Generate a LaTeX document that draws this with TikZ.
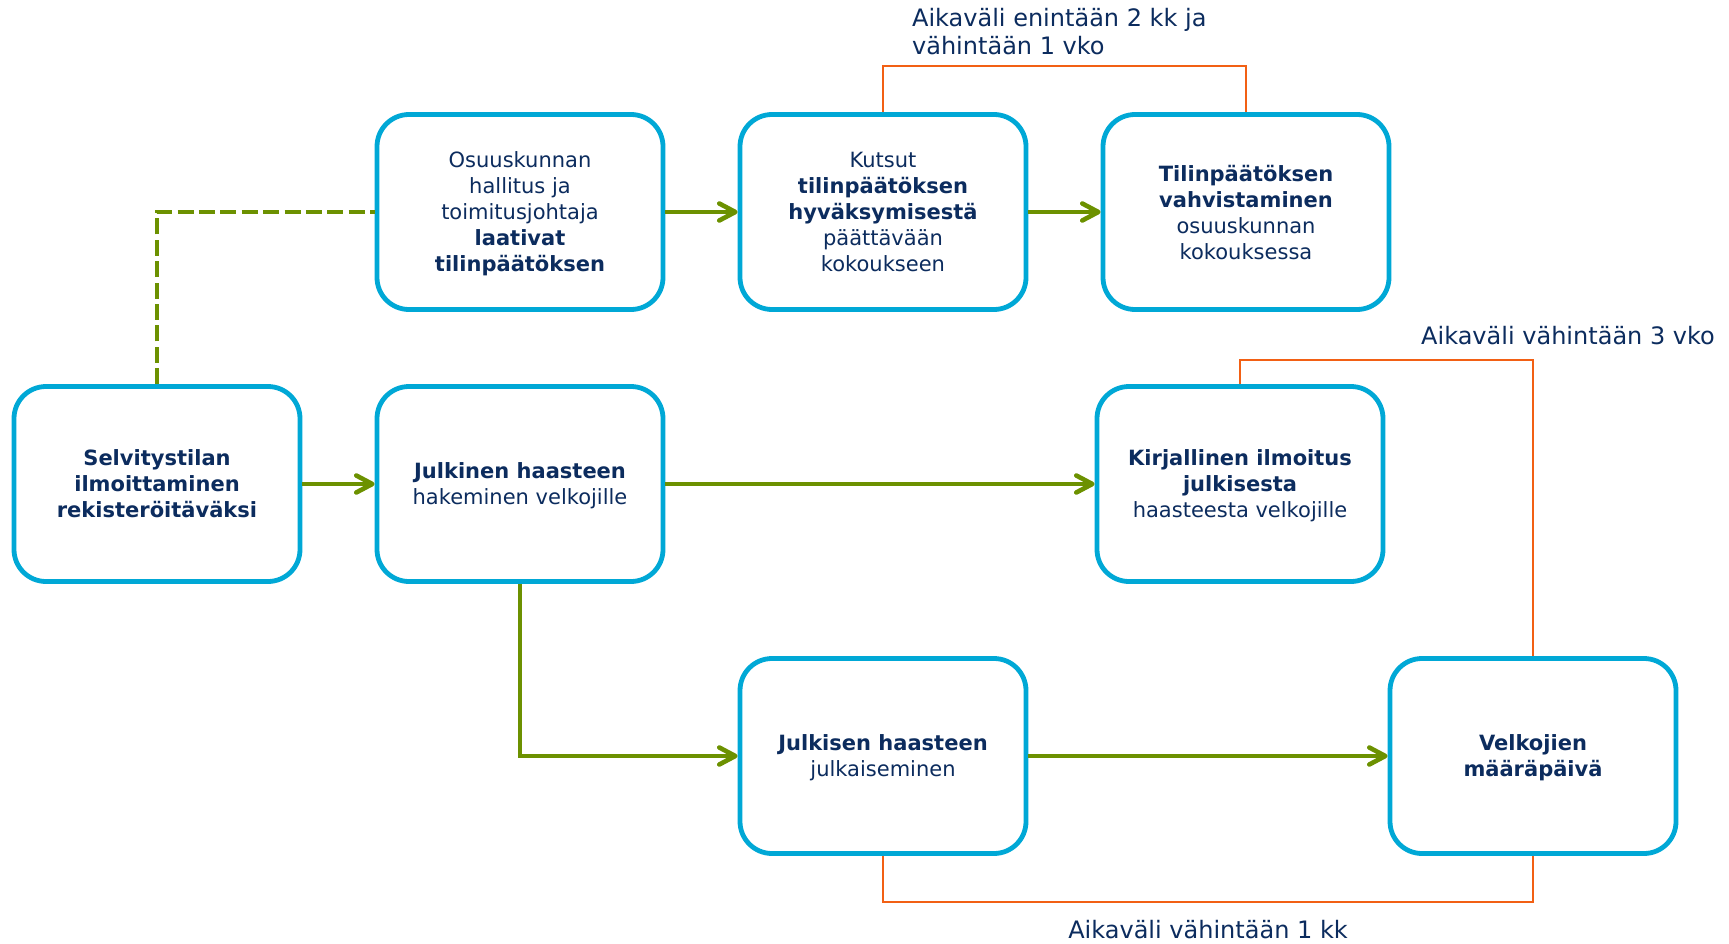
\documentclass[tikz,border=0pt]{standalone}
\usepackage{fontspec}
\setmainfont{DejaVu Sans}
\usepackage{xcolor}
\usepackage{tikz}
\usetikzlibrary{arrows.meta}
\definecolor{boxblue}{RGB}{0,168,214}
\definecolor{flowgreen}{RGB}{108,145,0}
\definecolor{spanorange}{RGB}{242,96,20}
\definecolor{textnavy}{RGB}{12,44,94}
\tikzstyle{box} = [rectangle, rounded corners=16pt, minimum width=143pt, minimum height=97.5pt, text centered, align=center, draw=boxblue, line width=2.4pt, fill=white, text=textnavy, font=\fontsize{10.5}{13}\selectfont, text depth=-4pt]
\tikzstyle{arrow} = [draw=flowgreen, line width=2.3pt, -{Straight Barb[length=8pt,width=8.5pt,round]}]
\tikzstyle{dashlink} = [draw=flowgreen, line width=2.3pt, dash pattern=on 8pt off 2.7pt]
\tikzstyle{spanline} = [draw=spanorange, line width=1.1pt]
\tikzstyle{spantext} = [text=textnavy, font=\fontsize{12}{14}\selectfont, inner sep=0pt]

\begin{document}
\begin{tikzpicture}[node distance=181.5pt]
		\useasboundingbox (-78.5pt,242pt) rectangle (786pt,-229.5pt);
		\node[box] (selvitys) at (0,0) {\textbf{Selvitystilan}\\\textbf{ilmoittaminen}\\\textbf{rekisteröitäväksi}};
		\node[box, right of = selvitys] (haaste) {\textbf{Julkinen haasteen}\\hakeminen velkojille};
		\node[box, above of = haaste, node distance=136pt] (laadinta) {Osuuskunnan\\hallitus ja\\toimitusjohtaja\\\textbf{laativat}\\\textbf{tilinpäätöksen}};
		\node[box, right of = laadinta] (kutsu) {Kutsut\\\textbf{tilinpäätöksen}\\\textbf{hyväksymisestä}\\päättävään\\kokoukseen};
		\node[box, right of = kutsu] (vahvistus) {\textbf{Tilinpäätöksen}\\\textbf{vahvistaminen}\\osuuskunnan\\kokouksessa};
		\node[box, below of = vahvistus, node distance=136pt, xshift=-3pt] (ilmoitus) {\textbf{Kirjallinen ilmoitus}\\\textbf{julkisesta}\\haasteesta velkojille};
		\node[box, below of = kutsu, node distance=272pt] (julkaisu) {\textbf{Julkisen haasteen}\\julkaiseminen};
		\node[box, right of = julkaisu, node distance=325pt] (maarapaiva) {\textbf{Velkojien}\\\textbf{määräpäivä}};

		\draw[arrow] (selvitys) -- (haaste);
		\draw[arrow] (laadinta) -- (kutsu);
		\draw[arrow] (kutsu) -- (vahvistus);
		\draw[arrow] (haaste) -- (ilmoitus);
		\draw[arrow] (haaste.south) |- (julkaisu.west);
		\draw[arrow] (julkaisu) -- (maarapaiva);
		\draw[dashlink] (selvitys.north) |- (laadinta.west);

		% aikavälit
		\draw[spanline] (kutsu.north) -- ++(0,23pt) -| (vahvistus.north)
			node[spantext, pos=0, anchor=west, align=left, xshift=14pt, yshift=17.5pt] (vali1) {Aikaväli enintään 2 kk ja\\vähintään 1 vko};
		\draw[spanline] (ilmoitus.north) -- ++(0,12pt) -| (maarapaiva.north)
			node[spantext, pos=0.5, xshift=17.5pt, yshift=12.5pt] (vali2) {Aikaväli vähintään 3 vko};
		\draw[spanline] (julkaisu.south) -- ++(0,-23pt) -| (maarapaiva.south)
			node[spantext, pos=0.25, yshift=-14pt] (vali3) {Aikaväli vähintään 1 kk};
	\end{tikzpicture}
\end{document}
